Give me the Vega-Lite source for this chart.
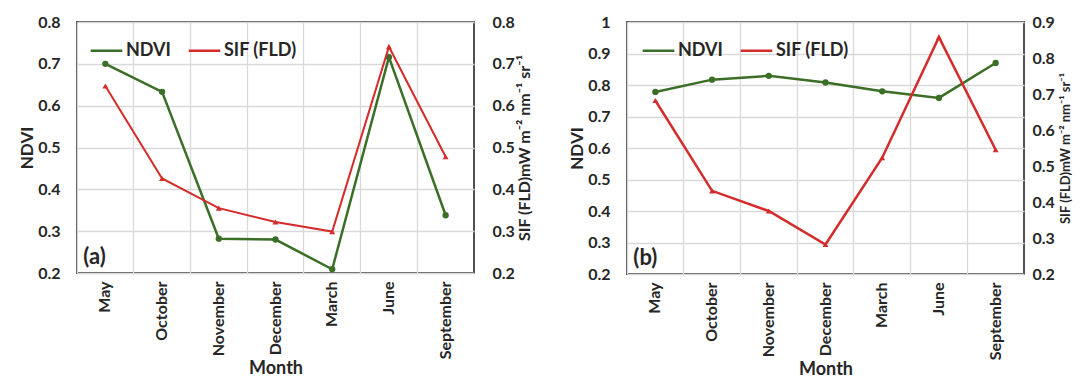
{
  "$schema": "https://vega.github.io/schema/vega-lite/v6.json",
  "background": "white",
  "padding": {"left": 17, "top": 13, "right": 0, "bottom": 0},
  "config": {
    "font": "Lato",
    "view": {"stroke": "#505050", "strokeWidth": 2},
    "axis": {
      "labelFont": "Lato", "labelFontWeight": "bold", "labelFontSize": 16, "labelColor": "#262626",
      "titleFont": "Lato", "titleFontWeight": "bold", "titleFontSize": 17, "titleColor": "#262626",
      "gridColor": "#d9d9d9", "gridWidth": 1.3, "domain": false, "ticks": false
    },
    "legend": {
      "labelFont": "Lato", "labelFontWeight": "bold", "labelFontSize": 18, "labelColor": "#262626",
      "symbolType": "stroke", "symbolSize": 1000, "symbolStrokeWidth": 2.5, "columnPadding": 12, "labelOffset": 2
    }
  },
  "spacing": 33,
  "resolve": {"scale": {"color": "independent"}, "legend": {"color": "independent"}},
  "hconcat": [
    {
      "width": 397, "height": 251,
      "data": {"values": [
        {"month": "May", "NDVI": 0.700, "SIF": 0.647},
        {"month": "October", "NDVI": 0.633, "SIF": 0.426},
        {"month": "November", "NDVI": 0.282, "SIF": 0.355},
        {"month": "December", "NDVI": 0.280, "SIF": 0.322},
        {"month": "March", "NDVI": 0.209, "SIF": 0.299},
        {"month": "June", "NDVI": 0.716, "SIF": 0.741},
        {"month": "September", "NDVI": 0.338, "SIF": 0.478}
      ]},
      "layer": [
        {
          "encoding": {
            "x": {"field": "month", "type": "nominal", "bandPosition": 0.5,
              "scale": {"type": "band", "paddingInner": 0, "paddingOuter": 0, "domain": ["May", "October", "November", "December", "March", "June", "September"]},
              "axis": {"labelAngle": -90, "grid": true, "bandPosition": 0, "title": "Month", "titleFontSize": 18, "titlePadding": 1, "labelPadding": 8}},
            "y": {"field": "NDVI", "type": "quantitative",
              "scale": {"domain": [0.2, 0.8], "nice": false, "zero": false},
              "axis": {"values": [0.2, 0.3, 0.4, 0.5, 0.6, 0.7, 0.8], "format": ".1~f", "title": "NDVI", "grid": true, "labelPadding": 17, "titlePadding": 1}}
          },
          "layer": [
            {"mark": {"type": "line", "strokeWidth": 2.5},
             "encoding": {"color": {"datum": "NDVI", "type": "nominal",
               "scale": {"domain": ["NDVI", "SIF (FLD)"], "range": ["#3b6e27", "#d42b2b"]},
               "legend": {"title": null, "orient": "none", "legendX": 12, "legendY": 11, "direction": "horizontal"}}}},
            {"mark": {"type": "point", "filled": true, "shape": "circle", "size": 40, "color": "#3b6e27", "opacity": 1}},
            {"transform": [{"filter": {"field": "month", "equal": "May"}}],
             "mark": {"type": "text", "text": "(a)", "align": "left", "baseline": "bottom", "dx": -22, "dy": -4, "fontSize": 22, "fontWeight": "bold", "color": "#262626"},
             "encoding": {"y": {"datum": 0.2}}}
          ]
        },
        {
          "encoding": {
            "x": {"field": "month", "type": "nominal", "bandPosition": 0.5},
            "y": {"field": "SIF", "type": "quantitative",
              "scale": {"domain": [0.2, 0.8], "nice": false, "zero": false},
              "axis": {"orient": "right", "values": [0.2, 0.3, 0.4, 0.5, 0.6, 0.7, 0.8], "format": ".1~f", "grid": false, "labelPadding": 18, "titlePadding": 2,
                "titleAngle": 270, "titleBaseline": "top", "titleFontSize": 16, "title": "SIF (FLD)mW m⁻² nm⁻¹ sr⁻¹"}}
          },
          "layer": [
            {"mark": {"type": "line", "strokeWidth": 2},
             "encoding": {"color": {"datum": "SIF (FLD)", "type": "nominal"}}},
            {"mark": {"type": "point", "filled": true, "shape": "triangle-up", "size": 35, "color": "#d42b2b", "opacity": 1}}
          ]
        }
      ],
      "resolve": {"scale": {"y": "independent"}}
    },
    {
      "width": 397, "height": 252,
      "data": {"values": [
        {"month": "May", "NDVI": 0.778, "SIF": 0.682},
        {"month": "October", "NDVI": 0.817, "SIF": 0.431},
        {"month": "November", "NDVI": 0.829, "SIF": 0.375},
        {"month": "December", "NDVI": 0.808, "SIF": 0.282},
        {"month": "March", "NDVI": 0.780, "SIF": 0.523},
        {"month": "June", "NDVI": 0.759, "SIF": 0.858},
        {"month": "September", "NDVI": 0.870, "SIF": 0.545}
      ]},
      "layer": [
        {
          "encoding": {
            "x": {"field": "month", "type": "nominal", "bandPosition": 0.5,
              "scale": {"type": "band", "paddingInner": 0, "paddingOuter": 0, "domain": ["May", "October", "November", "December", "March", "June", "September"]},
              "axis": {"labelAngle": -90, "grid": true, "bandPosition": 0, "title": "Month", "titleFontSize": 18, "titlePadding": 1, "labelPadding": 8}},
            "y": {"field": "NDVI", "type": "quantitative",
              "scale": {"domain": [0.2, 1.0], "nice": false, "zero": false},
              "axis": {"values": [0.2, 0.3, 0.4, 0.5, 0.6, 0.7, 0.8, 0.9, 1.0], "format": ".1~f", "title": "NDVI", "grid": true, "labelPadding": 17, "titlePadding": 1}}
          },
          "layer": [
            {"mark": {"type": "line", "strokeWidth": 2.5},
             "encoding": {"color": {"datum": "NDVI", "type": "nominal",
               "scale": {"domain": ["NDVI", "SIF (FLD)"], "range": ["#3b6e27", "#d42b2b"]},
               "legend": {"title": null, "orient": "none", "legendX": 14, "legendY": 11, "direction": "horizontal"}}}},
            {"mark": {"type": "point", "filled": true, "shape": "circle", "size": 40, "color": "#3b6e27", "opacity": 1}},
            {"transform": [{"filter": {"field": "month", "equal": "May"}}],
             "mark": {"type": "text", "text": "(b)", "align": "left", "baseline": "bottom", "dx": -22, "dy": -4, "fontSize": 22, "fontWeight": "bold", "color": "#262626"},
             "encoding": {"y": {"datum": 0.2}}}
          ]
        },
        {
          "encoding": {
            "x": {"field": "month", "type": "nominal", "bandPosition": 0.5},
            "y": {"field": "SIF", "type": "quantitative",
              "scale": {"domain": [0.2, 0.9], "nice": false, "zero": false},
              "axis": {"orient": "right", "values": [0.2, 0.3, 0.4, 0.5, 0.6, 0.7, 0.8, 0.9], "format": ".1~f", "grid": false, "labelPadding": 8, "titlePadding": 5,
                "titleAngle": 270, "titleBaseline": "top", "titleFontSize": 13, "title": "SIF (FLD)mW m⁻² nm⁻¹ sr⁻¹"}}
          },
          "layer": [
            {"mark": {"type": "line", "strokeWidth": 2.5},
             "encoding": {"color": {"datum": "SIF (FLD)", "type": "nominal"}}},
            {"mark": {"type": "point", "filled": true, "shape": "triangle-up", "size": 35, "color": "#d42b2b", "opacity": 1}}
          ]
        }
      ],
      "resolve": {"scale": {"y": "independent"}}
    }
  ]
}
